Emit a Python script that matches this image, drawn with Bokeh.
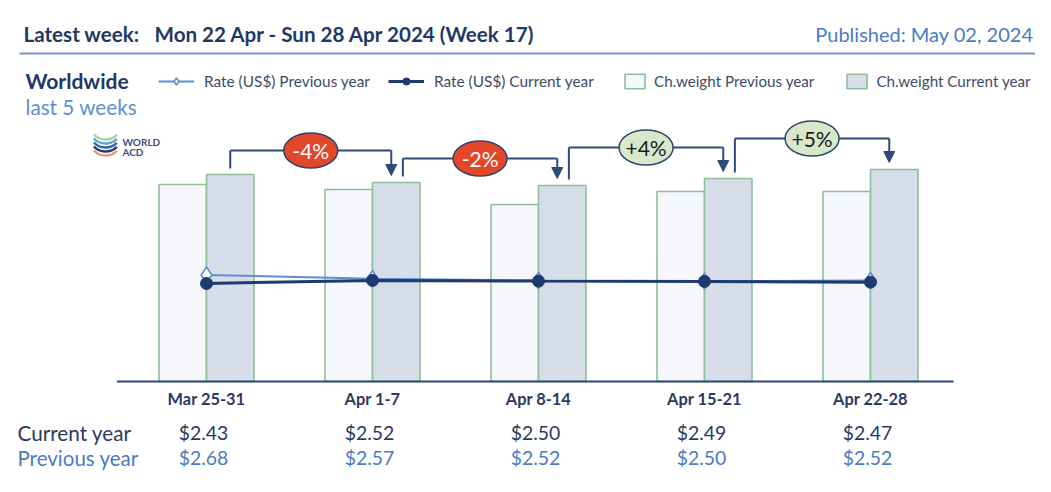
from bokeh.plotting import figure
from bokeh.models import (Range1d, ColumnDataSource, Label, Legend, LegendItem,
                          Arrow, NormalHead, BoxAnnotation)
from bokeh.transform import dodge
from bokeh.core.properties import value
from bokeh.embed import file_html
from bokeh.resources import INLINE

# ---------------- data ----------------
weeks = ["Mar 25-31", "Apr 1-7", "Apr 8-14", "Apr 15-21", "Apr 22-28"]
weight_prev = [197, 192, 177, 190, 190]      # chargeable weight index, previous year
weight_cur = [207, 199, 196, 203, 212]       # chargeable weight index, current year
rate_cur = [2.43, 2.52, 2.50, 2.49, 2.47]    # US$ per kg, current year
rate_prev = [2.68, 2.57, 2.52, 2.50, 2.52]   # US$ per kg, previous year
changes = ["-4%", "-2%", "+4%", "+5%"]       # week-on-week change of current weight

# ---------------- styling ----------------
W, H = 1035, 476
OFF = 0
FONT = "Lato"
NAVY = "#1F3864"
TXT = "#2B3A5E"
BLUE = "#4A7CC4"
LIGHTBLUE = "#5B8FD6"
LEG_TXT = "#3F4B66"
GREEN_LINE = "#8DBF98"
PREV_FILL = "#F5F7FC"
CUR_FILL = "#D6DDE8"
RATE_NAVY = "#1F3A6E"
BR_COL = "#2E4A7A"

X0, X1 = (OFF - 206) / 166.0, (OFF + W - 206) / 166.0
Y0, Y1 = 381 - (OFF + H), 381 - OFF
BW = 0.286

p = figure(width=W, height=H, output_backend="svg", toolbar_location=None,
           x_range=Range1d(X0, X1), y_range=Range1d(Y0, Y1),
           x_axis_location=None, y_axis_location=None, min_border=0)
p.grid.visible = False
p.outline_line_color = None
p.background_fill_color = "white"
p.border_fill_color = "white"
p.extra_y_ranges = {"rate": Range1d(2.43 - (OFF + H - 283) / 34.0, 2.43 + (283 - OFF) / 34.0)}

idx = list(range(len(weeks)))
src = ColumnDataSource(dict(x=idx, week=weeks, wp=weight_prev, wc=weight_cur,
                            rc=rate_cur, rp=rate_prev,
                            vc=["$%.2f" % v for v in rate_cur],
                            vp=["$%.2f" % v for v in rate_prev]))

# bars
b_prev = p.vbar(x=dodge("x", -BW / 2, range=p.x_range), top="wp", bottom=0, width=BW,
                source=src, fill_color=PREV_FILL, line_color=GREEN_LINE, line_width=1.6)
b_cur = p.vbar(x=dodge("x", BW / 2, range=p.x_range), top="wc", bottom=0, width=BW,
               source=src, fill_color=CUR_FILL, line_color=GREEN_LINE, line_width=1.6)

# baseline
p.segment(x0=[-0.54], y0=[0], x1=[4.5], y1=[0], line_color="#2E4570", line_width=2)

# rate lines
l_prev = p.line("x", "rp", source=src, y_range_name="rate", line_color=LIGHTBLUE, line_width=2)
s_prev = p.scatter("x", "rp", source=src, y_range_name="rate", marker="diamond", size=16,
                   fill_color="white", line_color=LIGHTBLUE, line_width=1.6)
l_cur = p.line("x", "rc", source=src, y_range_name="rate", line_color=RATE_NAVY, line_width=3)
s_cur = p.scatter("x", "rc", source=src, y_range_name="rate", marker="circle", size=12,
                  fill_color=RATE_NAVY, line_color=RATE_NAVY)

# week-on-week brackets
cc = [i + BW / 2 for i in idx]
sx, ex, yb, yt, ytip, mid, cols, tcols = [], [], [], [], [], [], [], []
for i in range(len(weeks) - 1):
    s = cc[i] + (0.04 if i > 0 else 0.0)
    e = cc[i + 1] - 0.03
    top = max(weight_cur[i], weight_cur[i + 1]) + (24 if weight_cur[i] > weight_cur[i + 1] else 31)
    sx.append(s); ex.append(e)
    yb.append(weight_cur[i] + 6); yt.append(top); ytip.append(weight_cur[i + 1] + 7)
    mid.append((s + e) / 2)
    neg = changes[i].startswith("-")
    cols.append("#E2472A" if neg else "#D9E8CB")
    tcols.append("white" if neg else "#1A1A1A")
bsrc = ColumnDataSource(dict(sx=sx, ex=ex, yb=yb, yt=yt, ytip=ytip, mid=mid,
                             lab=changes, col=cols, tcol=tcols))
p.segment(x0="sx", y0="yb", x1="sx", y1="yt", source=bsrc, line_color=BR_COL, line_width=2)
p.segment(x0="sx", y0="yt", x1="ex", y1="yt", source=bsrc, line_color=BR_COL, line_width=2)
p.add_layout(Arrow(end=NormalHead(size=11, fill_color=BR_COL, line_color=BR_COL),
                   x_start="ex", y_start="yt", x_end="ex", y_end="ytip", source=bsrc,
                   line_color=BR_COL, line_width=2))
p.ellipse(x="mid", y="yt", width=54, height=35, width_units="screen", height_units="screen",
          source=bsrc, fill_color="col", line_color="#2E4570", line_width=1.5)
p.text(x="mid", y="yt", text="lab", source=bsrc, text_color="tcol", text_align="center",
       text_baseline="middle", text_font=value(FONT), text_font_size="21px")

# category labels & value rows
p.text(x="x", y=0, text="week", source=src, y_offset=17, text_align="center",
       text_baseline="middle", text_font=value(FONT), text_font_size="16.4px",
       text_font_style="bold", text_color=TXT)
p.text(x="x", y=0, text="vc", source=src, y_offset=51, x_offset=-3, text_align="center",
       text_baseline="middle", text_font=value(FONT), text_font_size="19.4px", text_color=TXT)
p.text(x="x", y=0, text="vp", source=src, y_offset=76, x_offset=-3, text_align="center",
       text_baseline="middle", text_font=value(FONT), text_font_size="19.4px", text_color=BLUE)


def lab(text, x, y, size, color, bold=False, align="left"):
    p.add_layout(Label(x=x - OFF, y=H - (y - OFF), x_units="screen", y_units="screen",
                       text=text, text_font=FONT, text_font_size=f"{size}px",
                       text_color=color, text_font_style="bold" if bold else "normal",
                       text_align=align, text_baseline="middle"))


lab("Latest week:", 23, 33, 20.6, NAVY, bold=True)
lab("Mon 22 Apr - Sun 28 Apr 2024 (Week 17)", 154, 33, 20.6, NAVY, bold=True)
lab("Published: May 02, 2024", 1033, 33, 20, BLUE, align="right")
lab("Worldwide", 25, 80, 21, NAVY, bold=True)
lab("last 5 weeks", 25, 106, 20.7, "#5B8FD0")
lab("Current year", 17, 432, 20.7, TXT)
lab("Previous year", 17, 457, 20.5, BLUE)
lab("WORLD", 122, 141, 10, "#3C4C7C", bold=True)
lab("ACD", 122, 151, 10, "#3C4C7C", bold=True)

# underline of header
p.add_layout(BoxAnnotation(left=19 - OFF, right=1035 - OFF, bottom=H - (54 - OFF),
                           top=H - (52 - OFF), left_units="screen", right_units="screen",
                           bottom_units="screen", top_units="screen",
                           fill_color="#7F96CC", fill_alpha=1, line_color=None))


# logo stripes (decoration)
def px2x(px):
    return X0 + (px - OFF) / W * (X1 - X0)


def px2y(py):
    return Y1 - (py - OFF) / H * (Y1 - Y0)


logo_cols = ["#A6D1A4", "#5FA8D3", "#2F62A6", "#1F3A6E", "#E99A72"]
logo_bottom = [139, 143, 147, 151, 155]
p.arc(x=[px2x(105)] * 5, y=[px2y(b - 16) for b in logo_bottom], radius=16,
      radius_units="screen", start_angle=3.9, end_angle=5.5, line_color=logo_cols,
      line_width=2.5)

# legends
leg1 = Legend(items=[LegendItem(label="Rate (US$) Previous year", renderers=[l_prev, s_prev]),
                     LegendItem(label="Rate (US$) Current year", renderers=[l_cur, s_cur])],
              orientation="horizontal", location=(158 - OFF, H - (90 - OFF)),
              glyph_width=36, glyph_height=18, label_height=18, label_standoff=10,
              spacing=18, padding=0, margin=0, border_line_color=None,
              background_fill_alpha=0, label_text_font=FONT, label_text_font_size="15.4px",
              label_text_color=LEG_TXT)
leg2 = Legend(items=[LegendItem(label="Ch.weight Previous year", renderers=[b_prev]),
                     LegendItem(label="Ch.weight Current year", renderers=[b_cur])],
              orientation="horizontal", location=(622 - OFF, H - (90 - OFF)),
              glyph_width=25, glyph_height=18, label_height=18, label_standoff=7,
              spacing=30, padding=0, margin=0, border_line_color=None,
              background_fill_alpha=0, label_text_font=FONT, label_text_font_size="15.2px",
              label_text_color=LEG_TXT)
p.add_layout(leg1)
p.add_layout(leg2)

open("out.html", "w").write(file_html(p, INLINE))
